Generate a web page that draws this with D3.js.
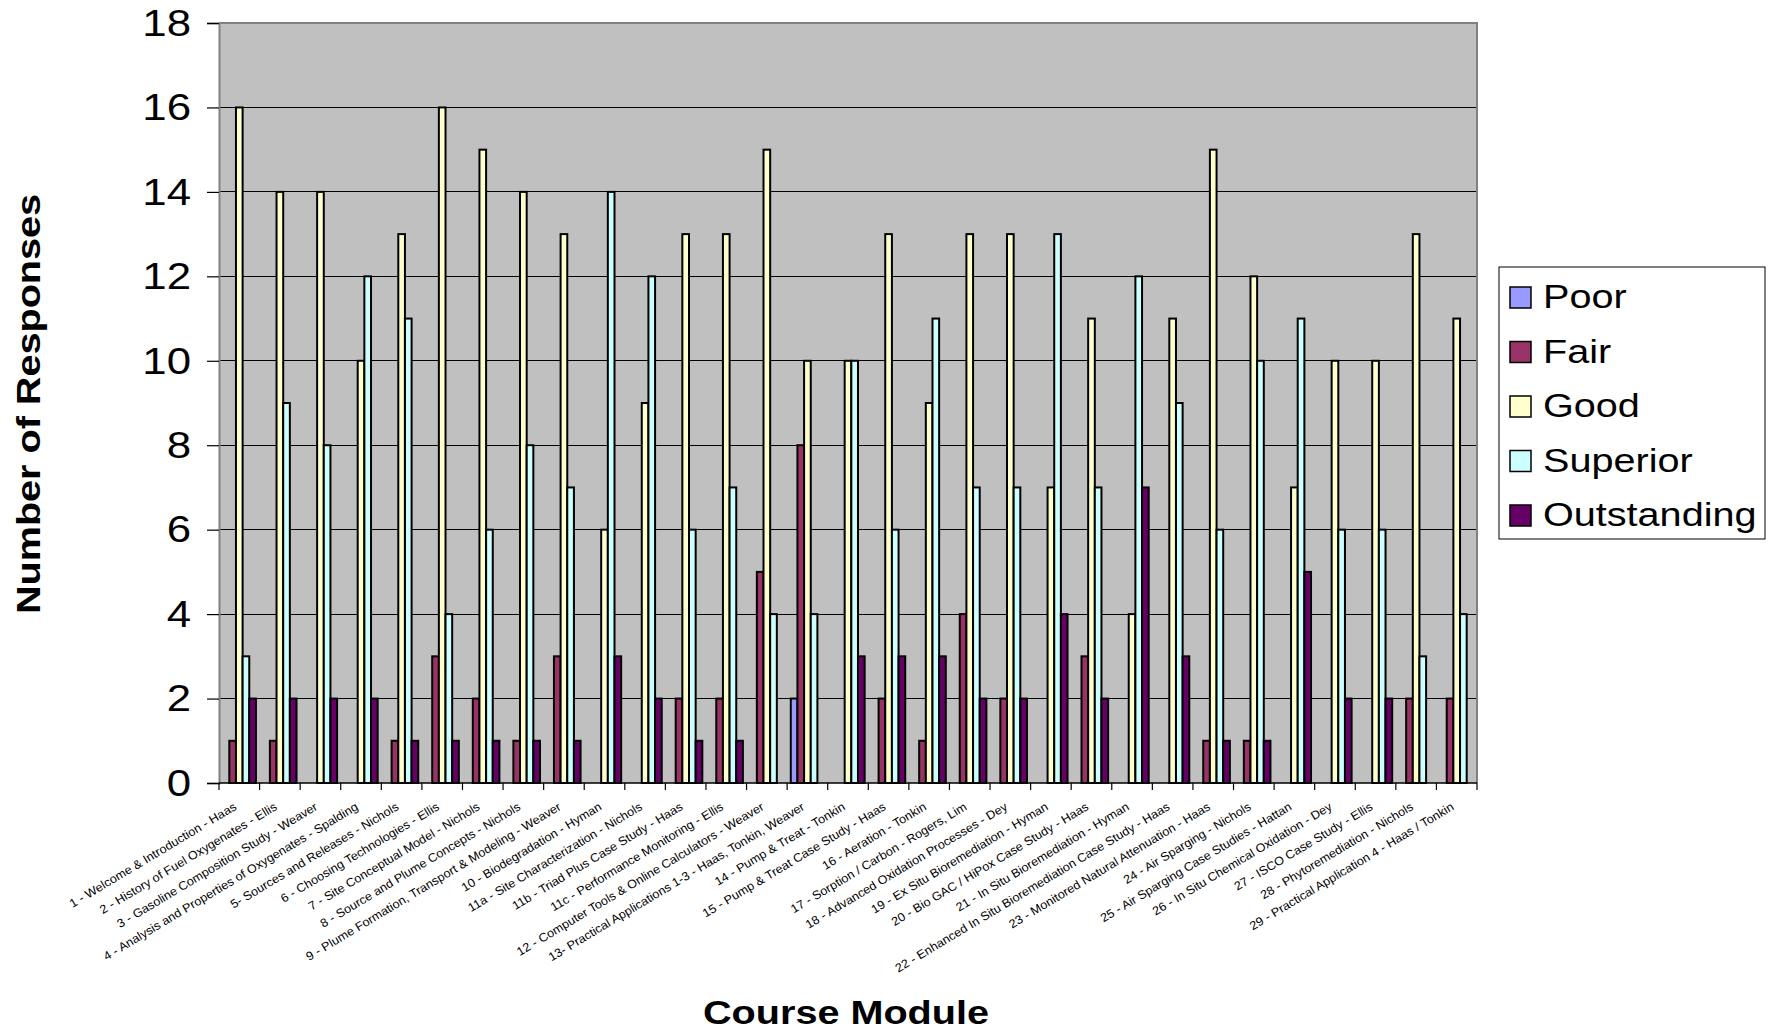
<!DOCTYPE html>
<html>
<head>
<meta charset="utf-8">
<script src="https://cdn.jsdelivr.net/npm/d3@7"></script>
<style>
  html, body { margin: 0; padding: 0; background: #ffffff; }
  svg { display: block; }
  text { font-family: "Liberation Sans", Arial, Helvetica, sans-serif; fill: #000; }
</style>
</head>
<body>
<svg id="chart" width="1775" height="1034"></svg>
<script>
// Course modules evaluated
const categories = [
  "1 - Welcome & Introduction - Haas",
  "2 - History of Fuel Oxygenates - Ellis",
  "3 - Gasoline Composition Study - Weaver",
  "4 - Analysis and Properties of Oxygenates - Spalding",
  "5- Sources and Releases - Nichols",
  "6 - Choosing Technologies - Ellis",
  "7 - Site Conceptual Model - Nichols",
  "8 - Source and Plume Concepts - Nichols",
  "9 - Plume Formation, Transport & Modeling - Weaver",
  "10 - Biodegradation - Hyman",
  "11a - Site Characterization - Nichols",
  "11b - Triad Plus Case Study - Haas",
  "11c - Performance Monitoring - Ellis",
  "12 - Computer Tools & Online Calculators - Weaver",
  "13- Practical Applications 1-3 - Haas, Tonkin, Weaver",
  "14 - Pump & Treat - Tonkin",
  "15 - Pump & Treat Case Study - Haas",
  "16 - Aeration - Tonkin",
  "17 - Sorption / Carbon - Rogers, Lim",
  "18 - Advanced Oxidation Processes - Dey",
  "19 - Ex Situ Bioremediation - Hyman",
  "20 - Bio GAC / HiPox Case Study - Haas",
  "21 - In Situ Bioremediation - Hyman",
  "22 - Enhanced In Situ Bioremediation Case Study - Haas",
  "23 - Monitored Natural Attenuation - Haas",
  "24 - Air Sparging - Nichols",
  "25 - Air Sparging Case Studies - Hattan",
  "26 - In Situ Chemical Oxidation - Dey",
  "27 - ISCO Case Study - Ellis",
  "28 - Phytoremediation - Nichols",
  "29 - Practical Application 4 - Haas / Tonkin"
];

// Number of responses per rating
const poor        = [0,0,0,0,0,0,0,0,0,0,0,0,0,0,2,0,0,0,0,0,0,0,0,0,0,0,0,0,0,0,0];
const fair        = [1,1,0,0,1,3,2,1,3,0,0,2,2,5,8,0,2,1,4,2,0,3,0,0,1,1,0,0,0,2,2];
const good        = [16,14,14,10,13,16,15,14,13,6,9,13,13,15,10,10,13,9,13,13,7,11,4,11,15,12,7,10,10,13,11];
const superior    = [3,9,8,12,11,4,6,8,7,14,12,6,7,4,4,10,6,11,7,7,13,7,12,9,6,10,11,6,6,3,4];
const outstanding = [2,2,2,2,1,1,1,1,1,3,2,1,1,0,0,3,3,3,2,2,4,2,7,3,1,1,5,2,2,0,0];

const seriesNames  = ["Poor", "Fair", "Good", "Superior", "Outstanding"];
const seriesColors = ["#9999FF", "#993366", "#FFFFCC", "#CCFFFF", "#660066"];
const yTicks = [0, 2, 4, 6, 8, 10, 12, 14, 16, 18];

const seriesValues = [poor, fair, good, superior, outstanding];
const series = seriesNames.map((name, i) => ({ name, color: seriesColors[i], values: seriesValues[i] }));

const svg = d3.select("#chart");
const plot = { left: 219, right: 1477, top: 23, bottom: 783 };
const STRETCH = 1.2; // text is set a little wide

const x0 = d3.scaleBand()
  .domain(categories)
  .range([plot.left, plot.right])
  .paddingInner(0.18)
  .paddingOuter(0.09);

const x1 = d3.scaleBand()
  .domain(seriesNames)
  .range([0, x0.bandwidth()]);

const y = d3.scaleLinear().domain([0, 18]).range([plot.bottom, plot.top]);

// plot background
svg.append("rect")
  .attr("x", plot.left).attr("y", plot.top)
  .attr("width", plot.right - plot.left).attr("height", plot.bottom - plot.top)
  .attr("fill", "#C0C0C0");

// horizontal gridlines
svg.append("g")
  .selectAll("line")
  .data(yTicks.filter(t => t > 0 && t < 18))
  .join("line")
  .attr("x1", plot.left).attr("x2", plot.right)
  .attr("y1", d => y(d)).attr("y2", d => y(d))
  .attr("stroke", "#000").attr("stroke-width", 1)
  .attr("shape-rendering", "crispEdges");

// plot frame (top and right)
svg.append("path")
  .attr("d", `M${plot.left},${plot.top}H${plot.right}V${plot.bottom}`)
  .attr("fill", "none").attr("stroke", "#808080").attr("stroke-width", 2);

// bars
const groups = svg.append("g").selectAll("g")
  .data(categories)
  .join("g")
  .attr("transform", d => `translate(${x0(d)},0)`);

groups.selectAll("rect")
  .data((d, i) => series.map(s => ({ name: s.name, color: s.color, value: s.values[i] })).filter(b => b.value > 0))
  .join("rect")
  .attr("x", d => x1(d.name))
  .attr("width", x1.bandwidth())
  .attr("y", d => y(d.value))
  .attr("height", d => y(0) - y(d.value))
  .attr("fill", d => d.color)
  .attr("stroke", "#000")
  .attr("stroke-width", 2);

// y axis
const yAxis = d3.axisLeft(y).tickValues(yTicks).tickSize(12).tickPadding(5).tickFormat(d3.format("d"));
const yg = svg.append("g").attr("transform", `translate(${plot.left},0)`).call(yAxis);
yg.select(".domain").attr("stroke", "#808080").attr("stroke-width", 2);
yg.selectAll(".tick line").attr("stroke", "#000").attr("stroke-width", 1.2);
yg.selectAll(".tick text")
  .attr("font-size", 36.5)
  .attr("dy", null)
  .attr("dominant-baseline", "central")
  .attr("x", null)
  .attr("text-anchor", "end")
  .attr("transform", `translate(-28,0) scale(${STRETCH},1)`);

// x axis: ticks at category boundaries
const step = x0.step();
const boundaries = d3.range(categories.length + 1).map(i => plot.left + i * step);
svg.append("g").selectAll("line")
  .data(boundaries)
  .join("line")
  .attr("x1", d => d).attr("x2", d => d)
  .attr("y1", plot.bottom).attr("y2", plot.bottom + 7)
  .attr("stroke", "#000").attr("stroke-width", 1.2);
svg.append("line")
  .attr("x1", plot.left).attr("x2", plot.right)
  .attr("y1", plot.bottom).attr("y2", plot.bottom)
  .attr("stroke", "#000").attr("stroke-width", 1.5);

// category labels
svg.append("g").selectAll("text")
  .data(categories)
  .join("text")
  .attr("transform", d => `translate(${x0(d) + x0.bandwidth() / 2 - 2},${plot.bottom + 26}) rotate(-31) scale(1.05,1)`)
  .attr("text-anchor", "end")
  .attr("font-size", 12)
  .text(d => d);

// axis titles
svg.append("text")
  .attr("transform", `translate(${(plot.left + plot.right) / 2 - 2},1024) scale(${STRETCH},1)`)
  .attr("text-anchor", "middle")
  .attr("font-size", 33)
  .attr("font-weight", "bold")
  .text("Course Module");

svg.append("text")
  .attr("transform", `translate(40,404) rotate(-90) scale(${STRETCH},1)`)
  .attr("text-anchor", "middle")
  .attr("font-size", 33)
  .attr("font-weight", "bold")
  .text("Number of Responses");

// legend
const legend = svg.append("g").attr("transform", "translate(1499,267)");
legend.append("rect")
  .attr("width", 266).attr("height", 272)
  .attr("fill", "#fff").attr("stroke", "#000").attr("stroke-width", 1);
const items = legend.selectAll("g.item")
  .data(series)
  .join("g")
  .attr("class", "item")
  .attr("transform", (d, i) => `translate(0,${30 + i * 54.5})`);
items.append("rect")
  .attr("x", 11).attr("y", -10).attr("width", 21).attr("height", 21)
  .attr("fill", d => d.color).attr("stroke", "#000").attr("stroke-width", 1.5);
items.append("text")
  .attr("transform", `translate(44,0) scale(${STRETCH},1)`)
  .attr("dominant-baseline", "central")
  .attr("font-size", 33)
  .text(d => d.name);
</script>
</body>
</html>
